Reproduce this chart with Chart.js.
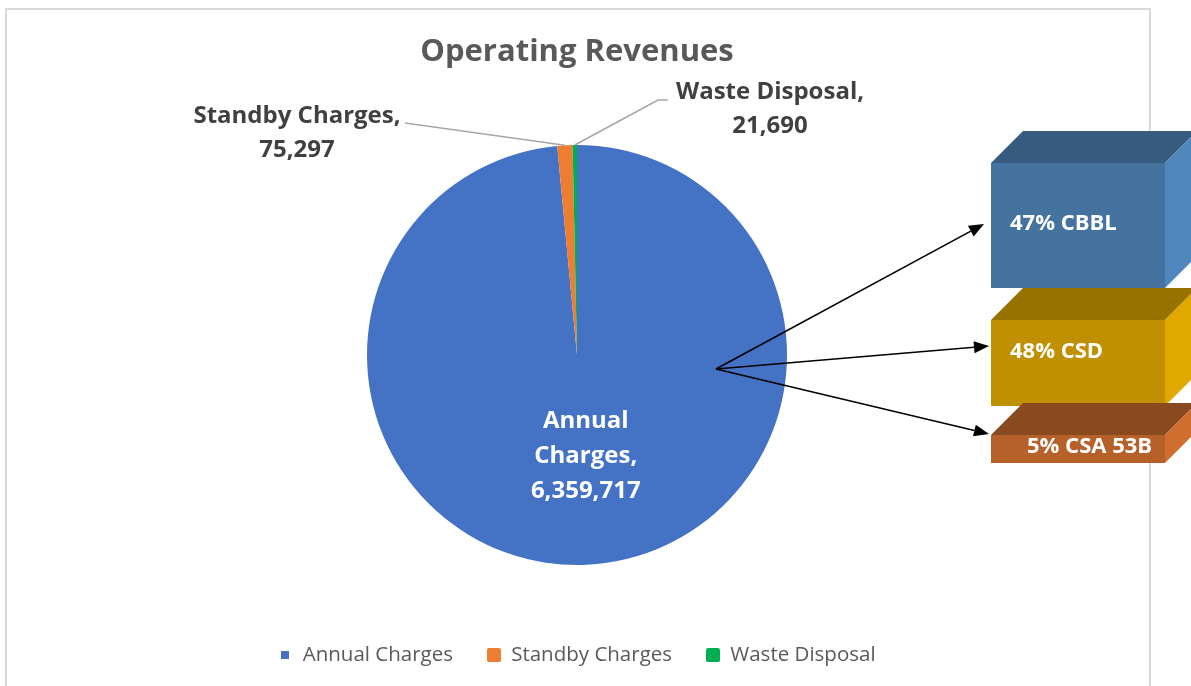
<!DOCTYPE html>
<html>
<head>
<meta charset="utf-8">
<script src="https://cdn.jsdelivr.net/npm/chart.js@4.4.0/dist/chart.umd.min.js"></script>
<style>
  body { margin: 0; background: #fff; }
  #wrap { position: relative; width: 1191px; height: 686px; overflow: hidden; }
  #frame { position: absolute; left: 5px; top: 8px; width: 1142px; height: 720px; border: 2px solid #d9d9d9; }
  #revChart { position: absolute; left: 0; top: 0; }
</style>
</head>
<body>
<div id="wrap">
  <div id="frame"></div>
  <canvas id="revChart" width="1191" height="686"></canvas>
</div>
<script>
// data
var categories = ['Annual Charges', 'Standby Charges', 'Waste Disposal'];
var revenues = [6359717, 75297, 21690];
var sliceColors = ['#4472c4', '#ed7d31', '#00b050'];

// breakdown of annual charges (callout boxes)
var fundLabels = ['CBBL', 'CSD', 'CSA 53B'];
var fundShares = [47, 48, 5];

var FONT = '"Open Sans", sans-serif';

function fmt(v) {
  return v.toLocaleString('en-US');
}

// legend markers: first one is a small square like in the excel original
function marker(color, size) {
  var c = document.createElement('canvas');
  c.width = size; c.height = size;
  var g = c.getContext('2d');
  g.fillStyle = color;
  if (size > 10) {
    g.beginPath();
    g.roundRect(0, 0, size, size, 2);
    g.fill();
  } else {
    g.fillRect(0, 0, size, size);
  }
  return c;
}
var markerSizes = [8, 14, 14];

// data labels with leader lines, Excel style
var sliceLabels = {
  id: 'sliceLabels',
  afterDatasetsDraw: function(chart) {
    var ctx = chart.ctx;
    var arcs = chart.getDatasetMeta(0).data;
    ctx.save();
    ctx.font = 'bold 24px ' + FONT;
    ctx.textAlign = 'center';
    ctx.textBaseline = 'middle';

    // big slice - label inside
    var a = arcs[0];
    var mid = (a.startAngle + a.endAngle) / 2;
    var lx = a.x + Math.cos(mid) * a.outerRadius * 0.48 + 4;
    var ly = a.y + Math.sin(mid) * a.outerRadius * 0.48;
    ctx.fillStyle = '#ffffff';
    ctx.fillText('Annual', lx, ly - 35);
    ctx.fillText('Charges,', lx, ly);
    ctx.fillText(fmt(revenues[0]), lx, ly + 35);

    // small slices - label outside with leader line
    var outside = [
      { i: 1, elbow: [-172, -232], end: [-172, -232], text: [-280, -239] },
      { i: 2, elbow: [81, -255], end: [91, -255], text: [193, -263] }
    ];
    outside.forEach(function(o) {
      var arc = arcs[o.i];
      var m = (arc.startAngle + arc.endAngle) / 2;
      var sx = arc.x + Math.cos(m) * arc.outerRadius;
      var sy = arc.y + Math.sin(m) * arc.outerRadius;
      ctx.strokeStyle = '#a6a6a6';
      ctx.lineWidth = 1.5;
      ctx.beginPath();
      ctx.moveTo(sx, sy);
      ctx.lineTo(arc.x + o.elbow[0], arc.y + o.elbow[1]);
      ctx.lineTo(arc.x + o.end[0], arc.y + o.end[1]);
      ctx.stroke();
      ctx.fillStyle = '#404040';
      ctx.fillText(categories[o.i] + ',', arc.x + o.text[0], arc.y + o.text[1]);
      ctx.fillText(fmt(revenues[o.i]), arc.x + o.text[0], arc.y + o.text[1] + 34);
    });
    ctx.restore();
  }
};

// arrows and 3D boxes on the right
var fundBoxes = {
  id: 'fundBoxes',
  afterDraw: function(chart) {
    var ctx = chart.ctx;
    var arc = chart.getDatasetMeta(0).data[0];
    var ox = arc.x + 139, oy = arc.y + 14;
    var boxes = [
      { y: 163, h: 125, tip: [984, 224], tx: 1010, ty: 61, front: '#44739f', top: '#375c7f', side: '#4f87bd' },
      { y: 320, h: 86, tip: [989, 346], tx: 1010, ty: 32, front: '#c09000', top: '#997300', side: '#e0a800' },
      { y: 435, h: 28, tip: [989, 434], tx: 1027, ty: 12, front: '#b6602a', top: '#8a4a1f', side: '#d06e2f' }
    ];
    var bx = 991, bw = 174, d = 32;
    ctx.save();

    boxes.forEach(function(b) {
      var tx = b.tip[0], ty = b.tip[1];
      var ang = Math.atan2(ty - oy, tx - ox);
      var len = 15, half = 6;
      ctx.strokeStyle = '#000';
      ctx.lineWidth = 1.6;
      ctx.beginPath();
      ctx.moveTo(ox, oy);
      ctx.lineTo(tx - Math.cos(ang) * len, ty - Math.sin(ang) * len);
      ctx.stroke();
      ctx.fillStyle = '#000';
      ctx.beginPath();
      ctx.moveTo(tx, ty);
      ctx.lineTo(tx - Math.cos(ang) * len - Math.sin(ang) * half, ty - Math.sin(ang) * len + Math.cos(ang) * half);
      ctx.lineTo(tx - Math.cos(ang) * len + Math.sin(ang) * half, ty - Math.sin(ang) * len - Math.cos(ang) * half);
      ctx.closePath();
      ctx.fill();
    });

    boxes.forEach(function(b, i) {
      var y = b.y, h = b.h;
      ctx.fillStyle = b.front;
      ctx.fillRect(bx, y, bw, h);
      ctx.fillStyle = b.top;
      ctx.beginPath();
      ctx.moveTo(bx, y);
      ctx.lineTo(bx + d, y - d);
      ctx.lineTo(bx + bw + d, y - d);
      ctx.lineTo(bx + bw, y);
      ctx.closePath();
      ctx.fill();
      ctx.fillStyle = b.side;
      ctx.beginPath();
      ctx.moveTo(bx + bw, y);
      ctx.lineTo(bx + bw + d, y - d);
      ctx.lineTo(bx + bw + d, y + h - d);
      ctx.lineTo(bx + bw, y + h);
      ctx.closePath();
      ctx.fill();

      ctx.fillStyle = '#ffffff';
      ctx.font = 'bold 22px ' + FONT;
      ctx.textAlign = 'left';
      ctx.textBaseline = 'middle';
      ctx.fillText(fundShares[i] + '% ' + fundLabels[i], b.tx, y + b.ty);
    });
    ctx.restore();
  }
};

var ctx = document.getElementById('revChart').getContext('2d');
var revChart = new Chart(ctx, {
  type: 'pie',
  data: {
    labels: categories,
    datasets: [{
      data: revenues,
      backgroundColor: sliceColors,
      borderWidth: 0,
      radius: 210
    }]
  },
  options: {
    responsive: false,
    animation: false,
    layout: { padding: { top: 10, bottom: 10.5, left: 0, right: 37 } },
    plugins: {
      title: {
        display: true,
        text: 'Operating Revenues',
        color: '#595959',
        font: { family: FONT, size: 31, weight: 'bold' },
        padding: { top: 23.4, bottom: 28.4 }
      },
      legend: {
        position: 'bottom',
        labels: {
          color: '#595959',
          font: { family: FONT, size: 20.5 },
          boxWidth: 14,
          boxHeight: 14,
          padding: 34,
          usePointStyle: true,
          generateLabels: function(chart) {
            var items = Chart.overrides.pie.plugins.legend.labels.generateLabels(chart);
            items.forEach(function(it, i) {
              it.pointStyle = marker(sliceColors[i], markerSizes[i]);
            });
            return items;
          }
        }
      },
      tooltip: { enabled: false }
    }
  },
  plugins: [sliceLabels, fundBoxes]
});
</script>
</body>
</html>
